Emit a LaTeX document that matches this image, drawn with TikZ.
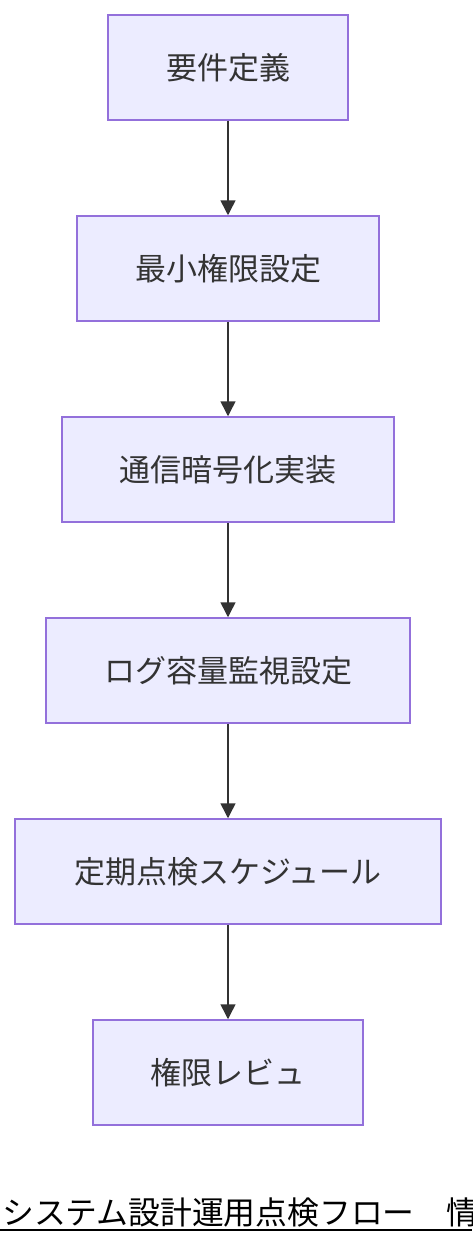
\documentclass[tikz,border=0pt]{standalone}
\usepackage{fontspec}
\newfontfamily\cjk{Noto Sans CJK JP}
\usetikzlibrary{arrows.meta}
\definecolor{nfill}{HTML}{ECECFF}
\definecolor{nline}{HTML}{9370DB}
\definecolor{ink}{HTML}{333333}
\begin{document}
\begin{tikzpicture}[x=1pt,y=-1pt,
  box/.style={draw=nline,fill=nfill,line width=1.5pt,inner sep=0pt,text=ink,font=\cjk\fontsize{31}{36}\selectfont},
  conn/.style={draw=ink,line width=1.5pt,-{Triangle[length=15pt,width=15pt]}}]
\useasboundingbox (0,0) rectangle (472,1244);
\clip (0,0) rectangle (472,1244);
\fill[white] (0,0) rectangle (472,1244);
\node[box,minimum width=240pt,minimum height=105pt] (n1) at (228,67.5) {要件定義};
\node[box,minimum width=302pt,minimum height=105pt] (n2) at (228,268.5) {最小権限設定};
\node[box,minimum width=332pt,minimum height=105pt] (n3) at (228,469.5) {通信暗号化実装};
\node[box,minimum width=364pt,minimum height=105pt] (n4) at (228,670.5) {ログ容量監視設定};
\node[box,minimum width=426pt,minimum height=105pt] (n5) at (228,871.5) {定期点検スケジュール};
\node[box,minimum width=270pt,minimum height=105pt] (n6) at (228,1072.5) {権限レビュ};
\draw[conn] (n1) -- (n2);
\draw[conn] (n2) -- (n3);
\draw[conn] (n3) -- (n4);
\draw[conn] (n4) -- (n5);
\draw[conn] (n5) -- (n6);
\node[anchor=west,inner sep=0pt,text=black,font=\cjk\fontsize{31.8}{36}\selectfont] (title) at (2,1212) {システム設計運用点検フロー　情};
\coordinate (ul) at (0,1230);
\coordinate (ur) at (472,1230);
\draw[black,line width=2pt] (ul) -- (ur);
\end{tikzpicture}
\end{document}
